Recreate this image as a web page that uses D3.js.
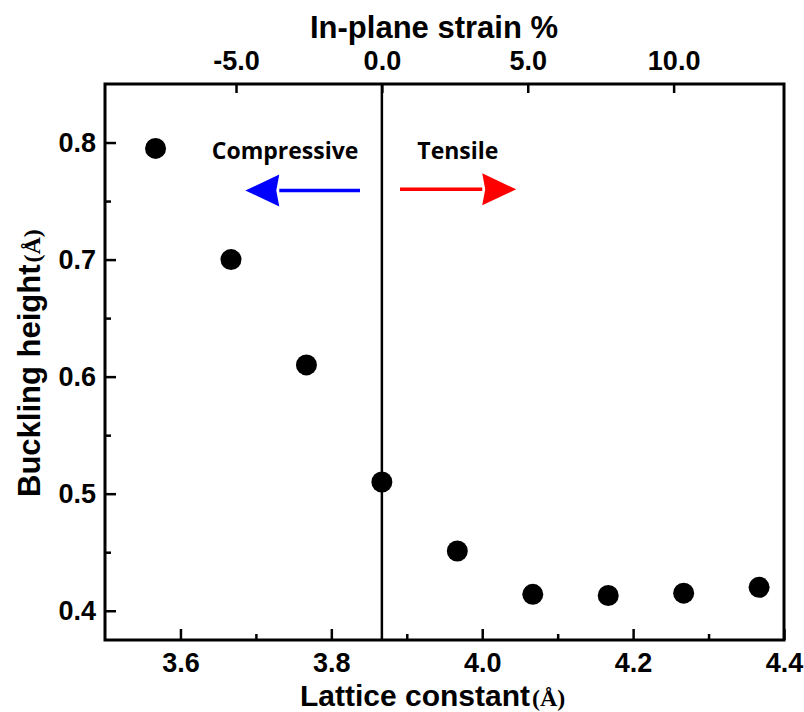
<!DOCTYPE html>
<html>
<head>
<meta charset="utf-8">
<script src="https://cdn.jsdelivr.net/npm/d3@7"></script>
<style>
  html, body { margin: 0; padding: 0; background: #fff; }
  svg { display: block; }
  .ax text { font-family: "Liberation Sans", Arial, sans-serif; font-weight: bold; font-size: 27px; fill: #000; }
  .ax line { stroke: #000; stroke-width: 2.5; }
  .ax path { display: none; }
</style>
</head>
<body>
<svg id="chart" width="804" height="712"></svg>
<script>
// ---- data ----
const lattice = [3.567, 3.667, 3.767, 3.867, 3.967, 4.067, 4.167, 4.267, 4.367];
const buckling = [0.795, 0.700, 0.610, 0.510, 0.451, 0.414, 0.413, 0.415, 0.420];
const a0 = 3.867; // zero-strain lattice constant
const xTicks = [3.6, 3.8, 4.0, 4.2, 4.4];
const xMinorTicks = [3.7, 3.9, 4.1, 4.3];
const yTicks = [0.4, 0.5, 0.6, 0.7, 0.8];
const yMinorTicks = [0.45, 0.55, 0.65, 0.75];
const strainTicks = [-5, 0, 5, 10];
const labels = { compressive: "Compressive", tensile: "Tensile" };

// ---- layout ----
const svg = d3.select("#chart");
const L = 105, R = 784, T = 84, B = 640;
const x = d3.scaleLinear().domain([3.5, 4.4]).range([L, R]);
const y = d3.scaleLinear().domain([0.375, 0.85]).range([B, T]);
const toStrain = a => (a - a0) / a0 * 100;
const xs = d3.scaleLinear().domain([toStrain(3.5), toStrain(4.4)]).range([L, R]);
const fmt = d => d.toFixed(1);

svg.append("rect").attr("width", 804).attr("height", 712).attr("fill", "#fff");

// bottom axis
svg.append("g").attr("class", "ax").attr("transform", `translate(0,${B})`)
  .call(d3.axisBottom(x).tickValues(xTicks).tickFormat(fmt).tickSizeInner(-11).tickSizeOuter(0).tickPadding(13));
svg.append("g").attr("class", "ax").attr("transform", `translate(0,${B})`)
  .call(d3.axisBottom(x).tickValues(xMinorTicks).tickFormat("").tickSizeInner(-6).tickSizeOuter(0));
// left axis
svg.append("g").attr("class", "ax").attr("transform", `translate(${L},0)`)
  .call(d3.axisLeft(y).tickValues(yTicks).tickFormat(fmt).tickSizeInner(-11).tickSizeOuter(0).tickPadding(9));
svg.append("g").attr("class", "ax").attr("transform", `translate(${L},0)`)
  .call(d3.axisLeft(y).tickValues(yMinorTicks).tickFormat("").tickSizeInner(-6).tickSizeOuter(0));
// top axis (strain)
svg.append("g").attr("class", "ax").attr("transform", `translate(0,${T})`)
  .call(d3.axisTop(xs).tickValues(strainTicks).tickFormat(fmt).tickSizeInner(-9).tickSizeOuter(0).tickPadding(14));

// frame
svg.append("rect").attr("x", L).attr("y", T).attr("width", R - L).attr("height", B - T)
  .attr("fill", "none").attr("stroke", "#000").attr("stroke-width", 3);

// zero-strain line
svg.append("line").attr("x1", x(a0)).attr("x2", x(a0)).attr("y1", T).attr("y2", B)
  .attr("stroke", "#000").attr("stroke-width", 2.5);

// points
svg.append("g").selectAll("circle").data(lattice).join("circle")
  .attr("cx", d => x(d)).attr("cy", (d, i) => y(buckling[i])).attr("r", 10.5).attr("fill", "#000");

// annotation arrows
function arrow(x0, x1, xHead, yv, color) {
  const yy = y(yv);
  svg.append("line").attr("x1", x(x0)).attr("x2", x(xHead)).attr("y1", yy).attr("y2", yy)
    .attr("stroke", color).attr("stroke-width", 3.5);
  const hb = x(xHead), tip = x(x1), h = 16;
  const dir = Math.sign(tip - hb);
  svg.append("path")
    .attr("d", `M${tip},${yy} L${hb},${yy - h} L${hb + dir * 3},${yy} L${hb},${yy + h} Z`)
    .attr("fill", color);
}
arrow(3.838, 3.686, 3.731, 0.759, "#0000ff");
arrow(3.891, 4.045, 4.000, 0.760, "#ff0000");

svg.append("text").attr("x", x(3.6415)).attr("y", y(0.786))
  .attr("font-family", "'Open Sans', sans-serif").attr("font-weight", "bold").attr("font-size", 23)
  .text(labels.compressive);
svg.append("text").attr("x", x(3.914)).attr("y", y(0.786))
  .attr("font-family", "'Open Sans', sans-serif").attr("font-weight", "bold").attr("font-size", 23)
  .text(labels.tensile);

// axis titles
const title = (sel) => sel.attr("font-family", "'Liberation Sans', Arial, sans-serif")
  .attr("font-weight", "bold").attr("font-size", 30).attr("fill", "#000");
const unit = (sel) => sel.attr("font-family", "'Liberation Serif', 'Times New Roman', serif")
  .attr("font-weight", "bold").attr("font-size", 24).attr("dx", 2);

svg.append("text").attr("x", 434).attr("y", 38).attr("text-anchor", "middle").call(title)
  .attr("font-size", 31).text("In-plane strain %");

const xt = svg.append("text").attr("x", 300).attr("y", 706).call(title);
xt.append("tspan").text("Lattice constant");
xt.append("tspan").call(unit).text("(Å)");

const yt = svg.append("text").attr("transform", "translate(40,497) rotate(-90)").call(title)
  .attr("font-size", 31);
yt.append("tspan").text("Buckling height");
yt.append("tspan").call(unit).text("(Å)");
</script>
</body>
</html>
